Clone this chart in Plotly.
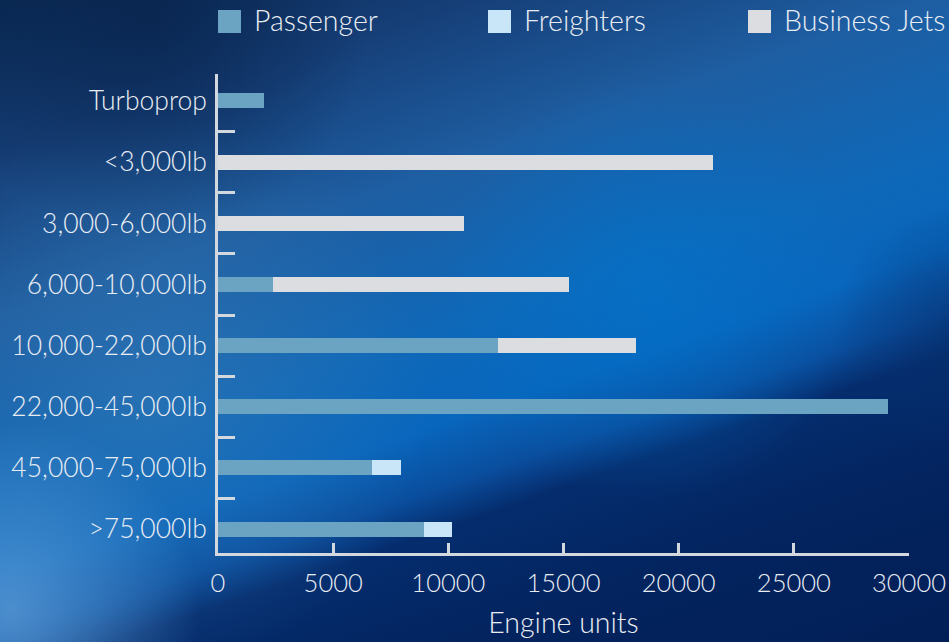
import base64
import plotly.graph_objects as go

# Engine thrust classes (top to bottom) and installed engine units per market
classes = ["Turboprop", "<3,000lb", "3,000-6,000lb", "6,000-10,000lb",
           "10,000-22,000lb", "22,000-45,000lb", "45,000-75,000lb", ">75,000lb"]
passenger = [2000, 0, 0, 2400, 12150, 29100, 6700, 8950]
freighters = [0, 0, 0, 0, 0, 0, 1250, 1200]
business_jets = [0, 21500, 10700, 12850, 6000, 0, 0, 0]

series_names = ["Passenger", "Freighters", "Business Jets"]
series_colors = ["#6aa4c2", "#c9e6f8", "#dcdde0"]

x_ticks = [0, 5000, 10000, 15000, 20000, 25000, 30000]

W, H = 949, 642
ML, MR, MT, MB = 218, 40, 74, 89
PW, PH = W - ML - MR, H - MT - MB


def px(x):
    return (x - ML) / PW


def py(y):
    return 1 - (y - MT) / PH


# Blue backdrop: diagonal band of light with darker corners
bg_svg = f"""<svg xmlns="http://www.w3.org/2000/svg" width="{W}" height="{H}" viewBox="0 0 {W} {H}">
<defs>
 <linearGradient id="band" gradientUnits="userSpaceOnUse" x1="-213" y1="26" x2="115" y2="971">
  <stop offset="0.00" stop-color="#0a2a55"/>
  <stop offset="0.05" stop-color="#0a2a55"/>
  <stop offset="0.20" stop-color="#163f78"/>
  <stop offset="0.35" stop-color="#1e5ea2"/>
  <stop offset="0.50" stop-color="#0f68b8"/>
  <stop offset="0.59" stop-color="#0866bd"/>
  <stop offset="0.65" stop-color="#0a4e9e"/>
  <stop offset="0.69" stop-color="#052d6e"/>
  <stop offset="0.80" stop-color="#03245f"/>
  <stop offset="1.00" stop-color="#021d55"/>
 </linearGradient>
 <radialGradient id="glowBL" gradientUnits="userSpaceOnUse" cx="10" cy="610" r="190">
  <stop offset="0" stop-color="#5c9bd6" stop-opacity="0.8"/>
  <stop offset="1" stop-color="#5c9bd6" stop-opacity="0"/>
 </radialGradient>
 <radialGradient id="steel" gradientUnits="userSpaceOnUse" cx="150" cy="390" r="280">
  <stop offset="0" stop-color="#3a7ab2" stop-opacity="0.5"/>
  <stop offset="1" stop-color="#3a7ab2" stop-opacity="0"/>
 </radialGradient>
 <radialGradient id="darkTL" gradientUnits="userSpaceOnUse" cx="150" cy="20" r="220">
  <stop offset="0" stop-color="#061f45" stop-opacity="0.6"/>
  <stop offset="1" stop-color="#061f45" stop-opacity="0"/>
 </radialGradient>
 <radialGradient id="bright" gradientUnits="userSpaceOnUse" cx="650" cy="290" r="210">
  <stop offset="0" stop-color="#0074cc" stop-opacity="0.55"/>
  <stop offset="1" stop-color="#0074cc" stop-opacity="0"/>
 </radialGradient>
 <radialGradient id="darkR" gradientUnits="userSpaceOnUse" cx="965" cy="330" r="130">
  <stop offset="0" stop-color="#06306e" stop-opacity="0.6"/>
  <stop offset="1" stop-color="#06306e" stop-opacity="0"/>
 </radialGradient>
</defs>
<rect width="{W}" height="{H}" fill="url(#band)"/>
<rect width="{W}" height="{H}" fill="url(#steel)"/>
<rect width="{W}" height="{H}" fill="url(#darkTL)"/>
<rect width="{W}" height="{H}" fill="url(#bright)"/>
<rect width="{W}" height="{H}" fill="url(#darkR)"/>
<rect width="{W}" height="{H}" fill="url(#glowBL)"/>
</svg>"""
bg_uri = "data:image/svg+xml;base64," + base64.b64encode(bg_svg.encode()).decode()

FONT = "Lato"
TEXT = "#e9edf3"
AXIS = "#d3d7de"

fig = go.Figure()
for name, vals, color in zip(series_names, [passenger, freighters, business_jets], series_colors):
    fig.add_trace(go.Bar(y=classes, x=vals, name=name, orientation="h",
                         marker=dict(color=color, line=dict(width=0)),
                         hoverinfo="skip", showlegend=False))

# Key across the top: swatch + label per series
key_swatch_left = [218, 488, 748]
key_shapes, key_labels = [], []
for name, color, left in zip(series_names, series_colors, key_swatch_left):
    key_shapes.append(dict(type="rect", xref="paper", yref="paper",
                           x0=px(left), x1=px(left + 23), y0=py(33), y1=py(10),
                           fillcolor=color, line=dict(width=0), layer="above"))
    key_labels.append(dict(text=name, xref="paper", yref="paper",
                           x=px(left + 34), y=py(20), xanchor="left", yanchor="middle",
                           showarrow=False,
                           font=dict(family=FONT, color=TEXT, size=28.5, weight=300)))

fig.update_layout(
    width=W, height=H,
    margin=dict(l=ML, r=MR, t=MT, b=MB, autoexpand=False),
    paper_bgcolor="#0a3a78", plot_bgcolor="rgba(0,0,0,0)",
    barmode="stack", bargap=0.755,
    font=dict(family=FONT, color=TEXT, size=27, weight=300),
    images=[dict(source=bg_uri, xref="paper", yref="paper", x=px(0), y=py(0),
                 sizex=W / PW, sizey=H / PH, xanchor="left", yanchor="top",
                 sizing="stretch", layer="below")],
    shapes=key_shapes,
    annotations=key_labels,
    showlegend=False,
)

fig.update_xaxes(
    range=[0, 30000], tickvals=x_ticks, ticktext=[str(v) for v in x_ticks],
    showgrid=False, zeroline=False,
    showline=True, linecolor=AXIS, linewidth=2.5,
    ticks="inside", ticklen=10, tickwidth=2.5, tickcolor=AXIS,
    ticklabelstandoff=6,
    tickfont=dict(family=FONT, color=TEXT, size=25.5, weight=300),
    title=dict(text="Engine units", standoff=17,
               font=dict(family=FONT, color=TEXT, size=28.5, weight=300)),
)

fig.update_yaxes(
    categoryorder="array", categoryarray=classes,
    range=[7.39, -0.44],
    showgrid=False, zeroline=False,
    showline=True, linecolor=AXIS, linewidth=2.5,
    ticks="inside", tickson="boundaries", ticklen=17, tickwidth=2.5, tickcolor=AXIS,
    ticklabelstandoff=3,
    tickfont=dict(family=FONT, color=TEXT, size=26.5, weight=300),
)

fig.write_html("out.html")
